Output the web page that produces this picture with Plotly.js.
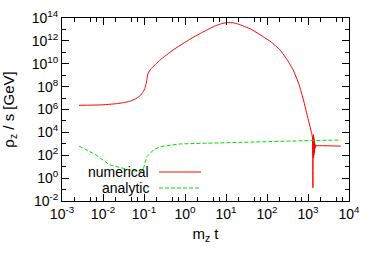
<!DOCTYPE html>
<html>
<head>
<meta charset="utf-8">
<script src="https://cdn.plot.ly/plotly-3.0.1.min.js"></script>
<style>html,body{margin:0;padding:0;background:#fff;}#chart{width:375px;height:263px;}</style>
</head>
<body>
<div id="chart"></div>
<script>
// numerical solution (m_z t, rho_z/s in GeV)
const numerical_t = [2.6e-3, 8.5e-3, 0.021, 0.032, 0.045, 0.06, 0.079, 0.095, 0.105, 0.112, 0.117, 0.126, 0.15, 0.245, 0.51, 1.32, 2.5, 5, 8, 11, 15, 20, 40, 81, 126, 209, 316, 437, 603, 776, 1000, 1122, 1230,
  1294, 1306, 1318, 1330, 1343, 1355, 1368, 1380, 1393, 1406, 1419, 1432, 1445, 1462, 1479, 1496, 1514, 1549, 6310];
const numerical_rho = [2.34e6, 2.5e6, 3.2e6, 4.0e6, 5.2e6, 8e6, 1.5e7, 3.5e7, 7e7, 1.6e8, 4.2e8, 1.5e9, 3.8e9, 2.1e10, 1.6e11, 1.4e12, 5e12, 1.8e13, 3.3e13, 4e13, 3.8e13, 2.9e13, 1.1e13, 2.3e12, 8e11, 1.6e11, 2e10, 2.8e9, 1.6e8, 6.8e6, 1.6e5, 3.2e4, 8e3,
  2500, 32, 0.14, 5000, 100, 6300, 63, 4000, 100, 2500, 160, 1600, 250, 1000, 400, 800, 525, 660, 630];
// analytic estimate
const analytic_t = [2.6e-3, 6.3e-3, 0.0148, 0.0316, 0.046, 0.079, 0.095, 0.107, 0.117, 0.17, 0.25, 0.76, 10, 100, 1000, 6310];
const analytic_rho = [630, 126, 14, 7, 5.1, 3.6, 5, 25, 76, 290, 560, 980, 1300, 1600, 1900, 2140];
// tick labels
const xTickVals = [1e-3, 1e-2, 1e-1, 1, 10, 100, 1000, 10000];
const xTickText = ["10<sup>-3</sup>", "10<sup>-2</sup>", "10<sup>-1</sup>", "10<sup>0</sup>", "10<sup>1</sup>", "10<sup>2</sup>", "10<sup>3</sup>", "10<sup>4</sup>"];
const yTickVals = [1e-2, 1, 1e2, 1e4, 1e6, 1e8, 1e10, 1e12, 1e14];
const yTickText = ["10<sup>-2</sup>", "10<sup>0</sup>", "10<sup>2</sup>", "10<sup>4</sup>", "10<sup>6</sup>", "10<sup>8</sup>", "10<sup>10</sup>", "10<sup>12</sup>", "10<sup>14</sup>"];
const legendNames = ["numerical", "analytic"];

const xMinor = [];
for (let e = -3; e < 4; e++) { [2, 5, 7].forEach(m => xMinor.push(m * Math.pow(10, e))); }
const yMinor = [];
for (let e = -1; e < 14; e += 2) yMinor.push(Math.pow(10, e));

const red = "#ff0000", green = "#00e000";
const font = "Liberation Sans, Arial, sans-serif";
const fs = 14;

const traces = [
  {x: numerical_t, y: numerical_rho, type: "scatter", mode: "lines", name: legendNames[0],
   line: {color: red, width: 1, shape: "spline", smoothing: 0.3}, showlegend: false},
  {x: analytic_t, y: analytic_rho, type: "scatter", mode: "lines", name: legendNames[1],
   line: {color: green, width: 1, dash: "4px,2px"}, showlegend: false}
];

const axisCommon = {
  type: "log", showline: true, linecolor: "#000", linewidth: 1, mirror: "allticks",
  ticks: "inside", ticklen: 7, tickwidth: 1, tickcolor: "#000", showgrid: false, zeroline: false,
  tickmode: "array", tickfont: {family: font, size: fs, color: "#000"},
  minor: {ticks: "inside", ticklen: 4, tickwidth: 1, tickcolor: "#000", tickmode: "array", showgrid: false}
};

const px = v => (v - 62) / 287;
const py = v => (201 - v) / 183;

const layout = {
  width: 375, height: 263,
  margin: {l: 62, r: 26, t: 18, b: 62},
  paper_bgcolor: "#fff", plot_bgcolor: "#fff",
  font: {family: font, size: fs, color: "#000"},
  showlegend: false,
  xaxis: Object.assign({}, axisCommon, {
    range: [-3, 4], tickvals: xTickVals, ticktext: xTickText,
    minor: Object.assign({}, axisCommon.minor, {tickvals: xMinor}),
    title: {text: "m<sub>z</sub> t", font: {family: font, size: 15, color: "#000"}, standoff: 7}
  }),
  yaxis: Object.assign({}, axisCommon, {
    range: [-2, 14], tickvals: yTickVals, ticktext: yTickText,
    minor: Object.assign({}, axisCommon.minor, {tickvals: yMinor}),
    title: {text: "ρ<sub>z</sub> / s [GeV]", font: {family: font, size: 15, color: "#000"}, standoff: 13}
  }),
  annotations: [
    {xref: "paper", yref: "paper", x: px(151), y: py(172), xanchor: "right", yanchor: "middle",
     text: legendNames[0], showarrow: false, font: {family: font, size: fs, color: "#000"}},
    {xref: "paper", yref: "paper", x: px(151), y: py(188), xanchor: "right", yanchor: "middle",
     text: legendNames[1], showarrow: false, font: {family: font, size: fs, color: "#000"}}
  ],
  shapes: [
    {type: "line", xref: "paper", yref: "paper", x0: px(159), x1: px(201), y0: py(172), y1: py(172),
     line: {color: red, width: 1}},
    {type: "line", xref: "paper", yref: "paper", x0: px(159), x1: px(201), y0: py(188), y1: py(188),
     line: {color: green, width: 1, dash: "4px,2px"}}
  ]
};

Plotly.newPlot("chart", traces, layout, {staticPlot: true, displayModeBar: false});
</script>
</body>
</html>
